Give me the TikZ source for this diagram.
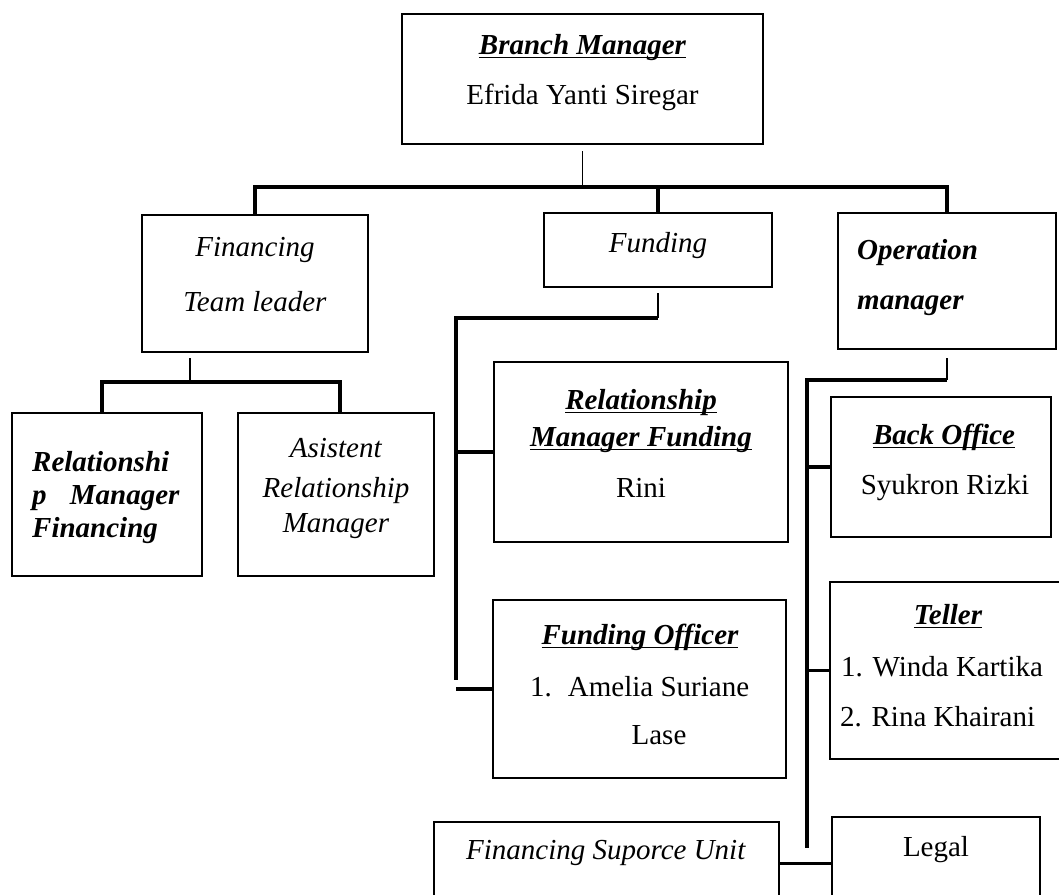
\documentclass[tikz,border=0pt]{standalone}
\usepackage{fontspec}
\setmainfont{Liberation Serif}
\usetikzlibrary{calc}
\newcommand{\ulbar}[1]{\setbox0\hbox{#1}\leavevmode\rlap{\vrule width \wd0 height -2.5pt depth 4.1pt}\box0}

\begin{document}
\begin{tikzpicture}[x=1pt,y=-1pt,
    orgbox/.style={draw, line width=2.2pt, inner sep=0pt},
    lbl/.style={inner sep=0pt, text height=20pt, text depth=6pt, font=\fontsize{29}{34}\selectfont},
    link/.style={line width=3.4pt},
    stem/.style={line width=1.2pt}]
  \path[use as bounding box, clip] (0,0) rectangle (1059,894);
  % boxes
  \path
    (582.5,79) node[orgbox, minimum width=361pt, minimum height=130pt] (branch){}
    (255,283.5) node[orgbox, minimum width=226pt, minimum height=137pt] (fintl){}
    (658,250) node[orgbox, minimum width=228pt, minimum height=74pt] (funding){}
    (947,281) node[orgbox, minimum width=218pt, minimum height=136pt] (oper){}
    (107,494.5) node[orgbox, minimum width=190pt, minimum height=163pt] (rmf){}
    (336,494.5) node[orgbox, minimum width=196pt, minimum height=163pt] (arm){}
    (641,452) node[orgbox, minimum width=294pt, minimum height=180pt] (rmfund){}
    (639.5,689) node[orgbox, minimum width=293pt, minimum height=178pt] (fo){}
    (941,467) node[orgbox, minimum width=220pt, minimum height=140pt] (back){}
    (947,670.5) node[orgbox, minimum width=234pt, minimum height=177pt] (teller){}
    (606.5,866) node[orgbox, minimum width=345pt, minimum height=88pt] (fsu){}
    (936,863.5) node[orgbox, minimum width=208pt, minimum height=93pt] (legal){};
  % texts
  \path
    (582.5,47) node[lbl] (branchT){\textbf{\textit{\ulbar{Branch Manager}}}}
    (582.5,97) node[lbl] (branchN){Efrida Yanti Siregar}
    (255,249) node[lbl] (fintlA){\textit{Financing}}
    (255,304) node[lbl] (fintlB){\textit{Team leader}}
    (658,245) node[lbl] (fundingT){\textit{Funding}}
    (857,252) node[lbl, anchor=west] (operA){\textbf{\textit{Operation}}}
    (857,302) node[lbl, anchor=west] (operB){\textbf{\textit{manager}}}
    (32,464) node[lbl, anchor=west] (rmfA){\textbf{\textit{Relationshi}}}
    (32,497) node[lbl, anchor=west] (rmfB){\textbf{\textit{p\hspace{0.8em}Manager}}}
    (32,530) node[lbl, anchor=west] (rmfC){\textbf{\textit{Financing}}}
    (336,450) node[lbl] (armA){\textit{Asistent}}
    (336,490) node[lbl] (armB){\textit{Relationship}}
    (336,525) node[lbl] (armC){\textit{Manager}}
    (641,402) node[lbl] (rmfundA){\textbf{\textit{\ulbar{Relationship}}}}
    (641,439) node[lbl] (rmfundB){\textbf{\textit{\ulbar{Manager Funding}}}}
    (641,490) node[lbl] (rmfundN){Rini}
    (640,637) node[lbl] (foT){\textbf{\textit{\ulbar{Funding Officer}}}}
    (530,689) node[lbl, anchor=west] (foA){1.\hspace{0.55em}Amelia Suriane}
    (659,737) node[lbl] (foB){Lase}
    (944,437) node[lbl] (backT){\textbf{\textit{\ulbar{Back Office}}}}
    (945,487) node[lbl] (backN){Syukron Rizki}
    (948,617) node[lbl] (tellerT){\textbf{\textit{\ulbar{Teller}}}}
    (841,669) node[lbl, anchor=west] (tellerA){1. Winda Kartika}
    (840,719) node[lbl, anchor=west] (tellerB){2. Rina Khairani}
    (606,852) node[lbl] (fsuT){\textit{Financing Suporce Unit}}
    (936,849) node[lbl] (legalT){Legal};
  \coordinate (topbar) at (582.5,187);
  \coordinate (finbar) at (190,382);
  \coordinate (fundbar) at (658,318);
  \coordinate (fundend) at (456,680);
  \coordinate (operbar) at (947,380);
  \coordinate (operend) at (807,848);
  \begin{scope}[link]
    \draw (fintl.north) |- (topbar) -| (oper.north);
    \draw (funding.north) -- (funding.north |- topbar);
    \draw ([xshift=-5pt]rmf.north) |- (finbar) -| ([xshift=4pt]arm.north);
    \draw (fundbar) -| (fundend);
    \draw (rmfund.west) -- (rmfund.west -| fundend);
    \draw (fo.west) -- (fo.west -| fundend);
    \draw (operbar) -| (operend);
    \draw (back.west) -- (back.west -| operend);
    \draw (teller.west) -- (teller.west -| operend);
    \draw (fsu.east |- legal.west) -- (legal.west);
  \end{scope}
  \begin{scope}[stem]
    \draw ($(branch.south)+(0,6)$) -- (topbar);
    \draw ($(fintl.south -| finbar)+(0,5)$) -- (finbar);
    \draw ($(funding.south)+(0,5)$) -- (fundbar);
    \draw ($(oper.south)+(0,8)$) -- (operbar);
  \end{scope}
\end{tikzpicture}
\end{document}
